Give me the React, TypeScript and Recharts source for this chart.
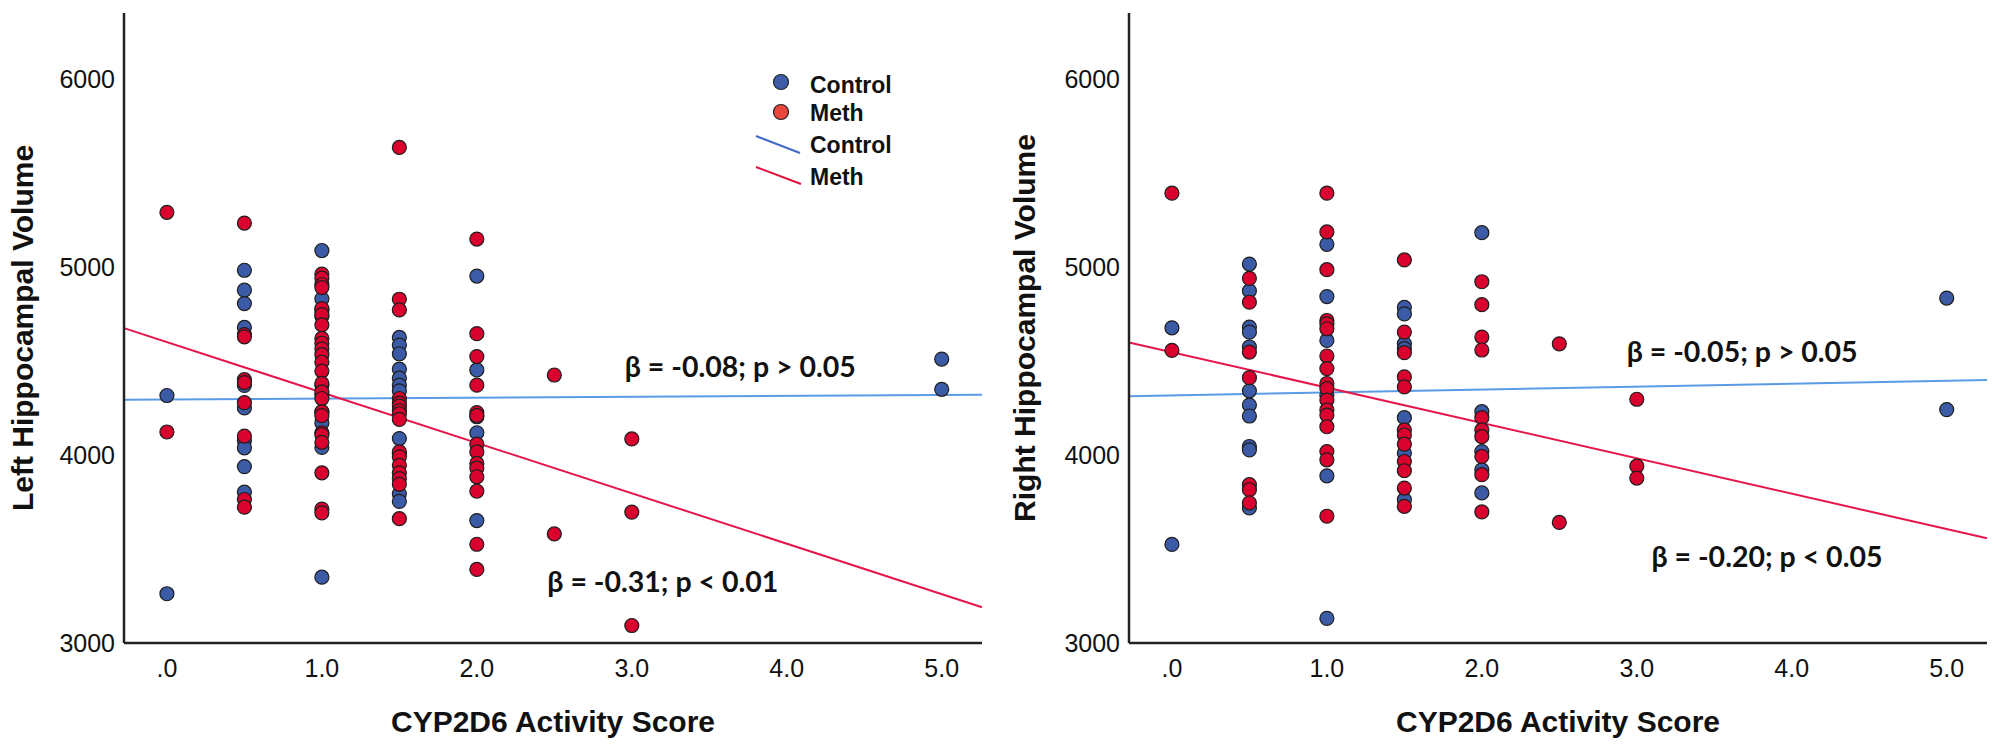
import React from "react";
import {
  ScatterChart,
  Scatter,
  XAxis,
  YAxis,
  ReferenceLine,
  ReferenceDot,
  Legend,
} from "recharts";

// CYP2D6 activity score columns; each volume list below lines up with these.
const scores = [0, 0.5, 1, 1.5, 2, 2.5, 3, 5];
const xTicks = [0, 1, 2, 3, 4, 5];
const yTicks = [3000, 4000, 5000, 6000];
const xDomain: [number, number] = [-0.277, 5.26];
const yDomain: [number, number] = [3000, 6350];

// Left hippocampal volume, per score column
const leftControl = [
  [4316, 3262],
  [4982, 4876, 4805, 4678, 4370, 4250, 4075, 4038, 3938, 3802],
  [5087, 4830, 4768, 4736, 4371, 4322, 4229, 4170, 4040, 3350],
  [4625, 4584, 4538, 4456, 4408, 4371, 4341, 4087, 4006, 3793, 3753],
  [4951, 4452, 4203, 4118, 3651],
  [],
  [],
  [4510, 4349],
];
const leftMeth = [
  [5290, 4122],
  [5233, 4640, 4628, 4400, 4385, 4278, 4100, 3763, 3722],
  [4962, 4940, 4905, 4890, 4778, 4746, 4692, 4620, 4594, 4564, 4533, 4493, 4446, 4381, 4335, 4300, 4229, 4209, 4118, 4108, 4067, 3905, 3712, 3692],
  [5635, 4828, 4771, 4300, 4275, 4260, 4235, 4219, 4189, 4016, 3990, 3945, 3905, 3874, 3844, 3661],
  [5148, 4645, 4523, 4371, 4225, 4210, 4057, 4016, 3955, 3930, 3884, 3807, 3525, 3391],
  [4425, 3580],
  [4085, 3696, 3093],
  [],
];

// Right hippocampal volume, per score column
const rightControl = [
  [4676, 3524],
  [5015, 4873, 4680, 4653, 4574, 4341, 4265, 4207, 4045, 4027, 3718],
  [5120, 4842, 4609, 4318, 3889, 3131],
  [4785, 4750, 4592, 4565, 4198, 4009, 3762],
  [5182, 4230, 4018, 3921, 3798],
  [],
  [],
  [4834, 4241],
];
const rightMeth = [
  [5392, 4556],
  [4939, 4812, 4547, 4411, 3842, 3815, 3745],
  [5392, 5186, 4985, 4715, 4697, 4671, 4526, 4459, 4380, 4353, 4292, 4239, 4212, 4150, 4018, 3974, 3674],
  [5037, 4653, 4544, 4415, 4362, 4133, 4106, 4057, 3965, 3916, 3824, 3727],
  [4921, 4799, 4627, 4558, 4198, 4133, 4097, 3992, 3895, 3697],
  [4591, 3641],
  [4296, 3940, 3877],
  [],
];

// fit lines: [intercept, slope]
const leftFitControl = [4295, 4.7];
const leftFitMeth = [4600, -268];
const rightFitControl = [4317, 15.4];
const rightFitMeth = [4546, -188];

// annotation text and where it sits (score, volume)
const leftNotes = [
  { text: "β = -0.08; p > 0.05", x: 3.7, y: 4478 },
  { text: "β = -0.31; p < 0.01", x: 3.2, y: 3335 },
];
const rightNotes = [
  { text: "β = -0.05; p > 0.05", x: 3.68, y: 4558 },
  { text: "β = -0.20; p < 0.05", x: 3.84, y: 3463 },
];

const BLUE = "#3c5ba6";
const RED = "#d9022f";
const FONT = "'Liberation Sans', Arial, sans-serif";

const toPoints = (groups: number[][]) =>
  groups.flatMap((vals, i) => vals.map((v) => ({ score: scores[i], volume: v })));

const dot = (fill: string) => (p: any) =>
  <circle cx={p.cx} cy={p.cy} r={7} fill={fill} stroke="#1e1e1e" strokeWidth={1.2} />;

const fitSegment = (fit: number[]) => [
  { x: xDomain[0], y: fit[0] + fit[1] * xDomain[0] },
  { x: xDomain[1], y: fit[0] + fit[1] * xDomain[1] },
];

function LegendBox() {
  const txt = { fontFamily: FONT, fontSize: 23, fontWeight: 700, fill: "#111" };
  return (
    <svg width={160} height={130}>
      <circle cx={36} cy={17} r={7.5} fill="#3f5ca8" stroke="#222" strokeWidth={1.2} />
      <text x={65} y={20} dominantBaseline="central" {...txt}>Control</text>
      <circle cx={36} cy={47} r={7.5} fill="#e8463f" stroke="#222" strokeWidth={1.2} />
      <text x={65} y={48} dominantBaseline="central" {...txt}>Meth</text>
      <line x1={11} y1={71} x2={55} y2={88} stroke="#4169c8" strokeWidth={2} />
      <text x={65} y={80} dominantBaseline="central" {...txt}>Control</text>
      <line x1={11} y1={102} x2={56} y2={119} stroke="#e0103f" strokeWidth={2} />
      <text x={65} y={112} dominantBaseline="central" {...txt}>Meth</text>
    </svg>
  );
}

type PanelProps = {
  control: number[][];
  meth: number[][];
  fitControl: number[];
  fitMeth: number[];
  notes: { text: string; x: number; y: number }[];
  yLabel: string;
  width: number;
  yAxisWidth: number;
  marginRight: number;
  labelX: number;
  showLegend?: boolean;
};

function Panel(props: PanelProps) {
  const { control, meth, fitControl, fitMeth, notes, yLabel, width, yAxisWidth, marginRight, labelX, showLegend } = props;
  return (
    <ScatterChart width={width} height={746} margin={{ top: 13, right: marginRight, bottom: 0, left: 0 }}>
      <XAxis
        type="number"
        dataKey="score"
        domain={xDomain}
        ticks={xTicks}
        tickFormatter={(v: number) => (v === 0 ? ".0" : v.toFixed(1))}
        tickLine={false}
        tickSize={0}
        tickMargin={16}
        height={103}
        axisLine={{ stroke: "#222", strokeWidth: 2.5 }}
        tick={{ fill: "#111", fontSize: 25, fontFamily: FONT }}
        allowDataOverflow
        label={(p: any) => {
          const vb = p.viewBox;
          return (
            <text x={vb.x + vb.width / 2} y={732} textAnchor="middle" fontFamily={FONT} fontSize={30} fontWeight={700} fill="#111">
              CYP2D6 Activity Score
            </text>
          );
        }}
      />
      <YAxis
        type="number"
        dataKey="volume"
        domain={yDomain}
        ticks={yTicks}
        tickLine={false}
        tickSize={0}
        tickMargin={9}
        width={yAxisWidth}
        axisLine={{ stroke: "#222", strokeWidth: 2.5 }}
        tick={{ fill: "#111", fontSize: 25, fontFamily: FONT }}
        allowDataOverflow
        label={(p: any) => {
          const vb = p.viewBox;
          const cy = vb.y + vb.height / 2;
          return (
            <text x={labelX} y={cy} transform={`rotate(-90 ${labelX} ${cy})`} textAnchor="middle" dominantBaseline="central" fontFamily={FONT} fontSize={30} fontWeight={700} fill="#111">
              {yLabel}
            </text>
          );
        }}
      />
      <Scatter name="Control" data={toPoints(control)} shape={dot(BLUE)} isAnimationActive={false} />
      <Scatter name="Meth" data={toPoints(meth)} shape={dot(RED)} isAnimationActive={false} />
      <ReferenceLine segment={fitSegment(fitControl)} stroke="#5b9be6" strokeWidth={2} />
      <ReferenceLine segment={fitSegment(fitMeth)} stroke="#e5174a" strokeWidth={2} />
      {notes.map((n) => (
        <ReferenceDot
          key={n.text}
          x={n.x}
          y={n.y}
          r={0}
          fill="none"
          stroke="none"
          label={(p: any) => {
            const vb = p.viewBox;
            return (
              <text
                x={vb.x + vb.width / 2}
                y={vb.y + vb.height / 2}
                textAnchor="middle"
                dominantBaseline="central"
                fontFamily="Lato, 'Open Sans', sans-serif"
                fontSize={29}
                fontWeight={700}
                fill="#111"
                textLength={231}
                lengthAdjust="spacingAndGlyphs"
              >
                {n.text}
              </text>
            );
          }}
        />
      ))}
      {showLegend && (
        <Legend
          layout="horizontal"
          verticalAlign="middle"
          align="center"
          content={() => <LegendBox />}
          wrapperStyle={{ position: "absolute", left: 745, top: 65, width: 160, height: 130 }}
        />
      )}
    </ScatterChart>
  );
}

export default function App() {
  return (
    <div style={{ position: "absolute", left: 0, top: 0, width: 1995, height: 746, background: "#fff", display: "flex" }}>
      <Panel
        control={leftControl}
        meth={leftMeth}
        fitControl={leftFitControl}
        fitMeth={leftFitMeth}
        notes={leftNotes}
        yLabel="Left Hippocampal Volume"
        width={997}
        yAxisWidth={124}
        marginRight={15}
        labelX={22}
        showLegend
      />
      <Panel
        control={rightControl}
        meth={rightMeth}
        fitControl={rightFitControl}
        fitMeth={rightFitMeth}
        notes={rightNotes}
        yLabel="Right Hippocampal Volume"
        width={998}
        yAxisWidth={132}
        marginRight={8}
        labelX={27}
      />
    </div>
  );
}
